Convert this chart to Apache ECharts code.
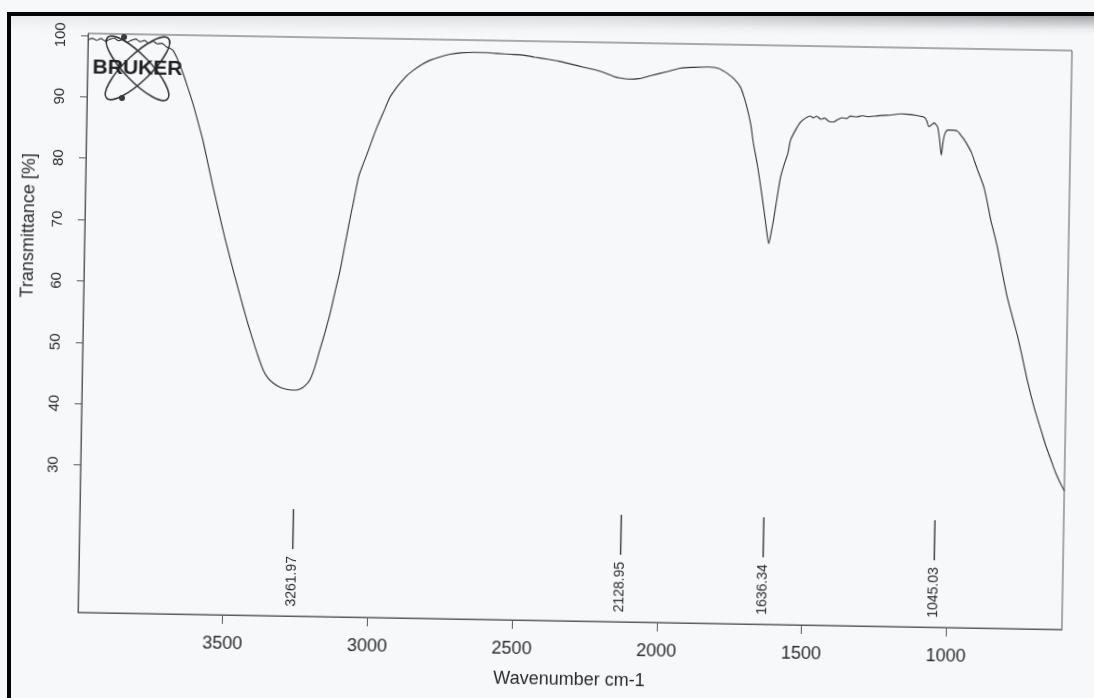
<!DOCTYPE html>
<html>
<head>
<meta charset="utf-8">
<title>IR spectrum</title>
<script src="https://cdn.jsdelivr.net/npm/echarts@6/dist/echarts.min.js"></script>
<style>
  html, body { margin: 0; padding: 0; }
  body {
    width: 1094px; height: 698px; overflow: hidden; position: relative;
    background: #f7f8fa;
  }
  /* scanned sheet edges */
  #edgeLeft { position: absolute; left: 7px; top: 12px; width: 4px; height: 686px; background: #050505; }
  #edgeTop { position: absolute; left: 7px; top: 12px; width: 1087px; height: 4px; background: #050505; }
  #shade {
    position: absolute; left: 11px; top: 16px; width: 1083px; height: 20px;
    background: linear-gradient(to bottom, rgba(95,95,100,0.55), rgba(190,190,195,0.15) 70%, rgba(255,255,255,0));
    -webkit-mask-image: linear-gradient(to right, rgba(0,0,0,0.15), rgba(0,0,0,0.35) 55%, rgba(0,0,0,1));
    mask-image: linear-gradient(to right, rgba(0,0,0,0.15), rgba(0,0,0,0.35) 55%, rgba(0,0,0,1));
  }
  #chart {
    position: absolute; left: 0; top: 0; width: 1094px; height: 698px;
    transform-origin: 577px 331.5px; transform: rotate(1deg);
  }
</style>
</head>
<body>
<div id="edgeLeft"></div>
<div id="edgeTop"></div>
<div id="shade"></div>
<div id="chart"></div>
<script>
// Wavenumber (cm-1) and transmittance (%) of the recorded spectrum
const wavenumbers = [
  3998, 3985, 3970, 3955, 3940, 3925, 3910, 3895, 3880, 3865, 3850, 3835, 3820, 3805, 3790, 3775,
  3760, 3745, 3730, 3716, 3706, 3690, 3670, 3652, 3634, 3615, 3597, 3578, 3559, 3540, 3522, 3503,
  3485, 3466, 3448, 3430, 3412, 3394, 3375, 3358, 3340, 3315, 3291, 3262, 3246, 3228, 3212, 3196,
  3180, 3163, 3147, 3131, 3115, 3101, 3087, 3072, 3057, 3042, 3028, 3012, 2996, 2976, 2953, 2935,
  2919, 2897, 2875, 2845, 2817, 2782, 2748, 2710, 2668, 2625, 2585, 2540, 2495, 2455, 2412, 2372,
  2332, 2285, 2238, 2210, 2183, 2160, 2129, 2095, 2055, 2000, 1952, 1905, 1858, 1820, 1789, 1765,
  1743, 1730, 1717, 1705, 1695, 1680, 1667, 1655, 1645, 1636, 1628, 1621, 1610, 1599, 1587, 1575,
  1567, 1550, 1533, 1515, 1500, 1490, 1478, 1464, 1450, 1436, 1420, 1405, 1390, 1375, 1361, 1340,
  1320, 1300, 1281, 1250, 1220, 1188, 1160, 1135, 1108, 1098, 1090, 1081, 1073, 1066, 1059, 1052,
  1045, 1040, 1034, 1024, 1005, 989, 979, 967, 955, 940, 930, 919, 907, 896, 884, 871,
  858, 846, 828, 809, 790, 770, 751, 732, 708, 684, 666, 648, 630, 614, 600
];
const transmittance = [
  99.3, 99.5, 99.2, 99.5, 99.1, 99.4, 99.6, 99.2, 99.4, 99.0, 99.3, 99.5, 99.1, 99.3, 98.9, 99.2,
  98.8, 98.9, 98.4, 98.1, 97.8, 96.4, 94.1, 91.7, 89.2, 86.2, 83.2, 79.4, 75.6, 72.0, 68.6, 65.3,
  62.2, 59.1, 56.2, 53.4, 50.8, 48.3, 46.0, 44.7, 43.9, 43.2, 42.9, 42.8, 43.0, 43.6, 44.6, 46.7,
  49.5, 52.4, 55.4, 59.0, 62.5, 66.3, 70.1, 73.9, 77.7, 79.8, 81.6, 83.8, 85.9, 88.2, 90.8, 92.1,
  93.1, 94.3, 95.2, 96.2, 96.9, 97.5, 97.95, 98.2, 98.3, 98.3, 98.2, 98.1, 98.0, 97.7, 97.4, 97.1,
  96.7, 96.2, 95.7, 95.3, 94.8, 94.55, 94.4, 94.5, 95.0, 95.7, 96.3, 96.5, 96.6, 96.4, 95.6, 94.7,
  93.4, 91.8, 89.7, 87.3, 84.3, 80.8, 77.2, 73.6, 70.4, 68.0, 69.9, 71.8, 75.5, 78.9, 81.0, 82.8,
  84.9, 86.6, 87.9, 88.6, 88.9, 88.6, 88.9, 88.4, 88.6, 88.1, 88.0, 88.4, 88.7, 88.6, 89.0, 88.9,
  89.1, 88.95, 89.05, 89.2, 89.3, 89.5, 89.45, 89.3, 89.05, 88.5, 87.5, 87.8, 88.1, 87.9, 87.4, 85.4,
  82.9, 85.0, 86.4, 87.0, 87.0, 86.8, 86.2, 85.5, 84.6, 83.3, 82.0, 80.6, 79.2, 77.8, 75.5, 72.6,
  70.3, 68.1, 64.1, 60.0, 56.8, 53.5, 49.8, 46.0, 41.9, 38.4, 35.8, 33.6, 31.4, 29.8, 28.6
];

// Picked peaks
const peakPositions = [3261.97, 2128.95, 1636.34, 1045.03];
const peakLabels = ['3261.97', '2128.95', '1636.34', '1045.03'];

// Axis ticks
const xTickValues = [3500, 3000, 2500, 2000, 1500, 1000];
const yTickValues = [30, 40, 50, 60, 70, 80, 90, 100];

const FONT = "'Liberation Sans', Arial, sans-serif";
const INK = '#2b2b2b';
const AXIS = '#5a5a5a';

const spectrum = wavenumbers.map((w, i) => [w, transmittance[i]]);
const peaks = peakPositions.map((p, i) => [p, peakLabels[i]]);

const chart = echarts.init(document.getElementById('chart'), null, { renderer: 'canvas' });

chart.setOption({
  animation: false,
  backgroundColor: 'transparent',
  grid: {
    left: 83, right: 27, top: 42, bottom: 77,
    show: true, borderColor: AXIS, borderWidth: 1, backgroundColor: 'transparent'
  },
  xAxis: {
    type: 'value', min: 600, max: 4000, inverse: true,
    name: 'Wavenumber cm-1', nameLocation: 'middle', nameGap: 50,
    nameTextStyle: { fontFamily: FONT, fontSize: 18, color: INK },
    axisLine: { show: true, lineStyle: { color: AXIS, width: 1 } },
    axisTick: { show: true, customValues: xTickValues, length: 9, lineStyle: { color: AXIS } },
    axisLabel: { customValues: xTickValues, formatter: v => String(v),
                 fontFamily: FONT, fontSize: 18, color: INK, margin: 20 },
    splitLine: { show: false }
  },
  yAxis: {
    type: 'value', min: 6, max: 100.3,
    axisLine: { show: true, lineStyle: { color: AXIS, width: 1 } },
    axisTick: { show: true, customValues: yTickValues, length: 7, lineStyle: { color: AXIS } },
    axisLabel: { customValues: yTickValues, formatter: v => String(v), rotate: 90,
                 fontFamily: FONT, fontSize: 15, color: INK, margin: 20 },
    splitLine: { show: false }
  },
  graphic: [
    {
      type: 'text', x: 27, y: 235, rotation: Math.PI / 2,
      style: { text: 'Transmittance [%]', font: '18px ' + FONT, fill: INK, align: 'center', verticalAlign: 'middle' }
    },
    // BRUKER mark
    {
      type: 'group', x: 133, y: 76, z: 10,
      children: [
        { type: 'ellipse', rotation: Math.PI / 4, shape: { cx: 0, cy: 0, rx: 43, ry: 13 },
          style: { fill: 'none', stroke: '#3a3a3a', lineWidth: 1.6 } },
        { type: 'ellipse', rotation: -Math.PI / 4, shape: { cx: 0, cy: 0, rx: 43, ry: 13 },
          style: { fill: 'none', stroke: '#3a3a3a', lineWidth: 1.6 } },
        { type: 'circle', shape: { cx: -14, cy: -31, r: 3 }, style: { fill: '#3a3a3a' } },
        { type: 'circle', shape: { cx: -15, cy: 30, r: 3 }, style: { fill: '#3a3a3a' } },
        { type: 'text', x: 0, y: 0,
          style: { text: 'BRUKER', font: 'bold 21px ' + FONT, fill: '#222', align: 'center', verticalAlign: 'middle' } }
      ]
    }
  ],
  series: [
    {
      type: 'line',
      data: spectrum,
      showSymbol: false,
      smooth: 0.25,
      lineStyle: { color: '#333', width: 1.1 },
      z: 5
    },
    {
      // peak pick markers: short tick with the wavenumber written upward below it
      type: 'custom',
      data: peaks,
      renderItem: function (params, api) {
        const x = api.coord([api.value(0), 6])[0];
        const base = params.coordSys.y + params.coordSys.height;
        return {
          type: 'group',
          children: [
            { type: 'line', shape: { x1: x, y1: base - 107, x2: x, y2: base - 67 },
              style: { stroke: '#2a2a2a', lineWidth: 1.3 } },
            { type: 'text', x: x, y: base - 60, rotation: Math.PI / 2,
              style: { text: peakLabels[params.dataIndex], font: '14px ' + FONT, fill: INK,
                       align: 'right', verticalAlign: 'middle' } }
          ]
        };
      },
      z: 4
    }
  ]
});
</script>
</body>
</html>
